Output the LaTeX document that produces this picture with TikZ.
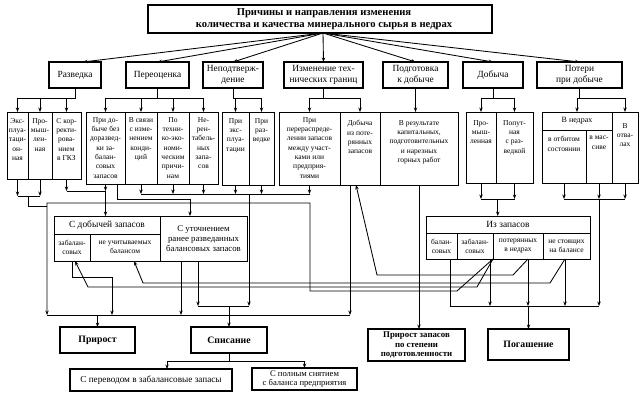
\documentclass[tikz,border=0pt]{standalone}
\usepackage{fontspec}
\setmainfont{Liberation Serif}
\usetikzlibrary{arrows.meta,calc}
\newcommand\bx[6][]{\node[rect,minimum width={(#4-#2)*1pt},minimum height={(#5-#3)*1pt},#1] (#6) at ({(#2+#4)/2},{-(#3+#5)/2}) {};}
\begin{document}
\begin{tikzpicture}[x=1pt,y=1pt,line width=0.85pt,
  rect/.style={draw,rectangle,inner sep=0pt,outer sep=0pt,line width=0.95pt},
  heavy/.style={line width=1.4pt},
  ar/.style={-{Stealth[length=4.5pt,width=3.4pt]}},
  lab/.style={font=\fontsize{7.5}{9.3}\selectfont,align=center,inner sep=0pt,anchor=north},
  sml/.style={font=\fontsize{7.5}{9}\selectfont,align=center,inner sep=0pt},
  mid/.style={font=\fontsize{8.8}{10.2}\selectfont,align=center,inner sep=0pt},
  lvl/.style={font=\fontsize{9.4}{11}\selectfont,align=center,inner sep=0pt},
  bot/.style={font=\bfseries\fontsize{9.8}{11}\selectfont,align=center,inner sep=0pt}]
\useasboundingbox (0,0) rectangle (644,-403);
% title
\bx[heavy]{148}{5}{492}{33}{title}
\node[font=\bfseries\fontsize{10.6}{12.4}\selectfont,align=center,inner sep=0pt] (titlet) at ([xshift=4pt]title.center) {Причины и направления изменения\\количества и качества минерального сырья в недрах};
% level 2
\bx[heavy]{49}{62}{101}{88}{razv}
\bx[heavy]{126}{62}{189}{88}{pere}
\bx[heavy]{203}{62}{263}{88}{nepod}
\bx[heavy]{284}{62}{363}{88}{izm}
\bx[heavy]{383}{62}{448}{88}{podg}
\bx[heavy]{463}{62}{523}{88}{dob}
\bx[heavy]{537}{62}{622}{88}{pot}
\node[lvl] (razvt) at (razv) {Разведка};
\node[lvl] (peret) at (pere) {Переоценка};
\node[lvl] (nepodt) at (nepod) {Неподтверж-\\дение};
\node[lvl] (izmt) at (izm) {Изменение тех-\\нических границ};
\node[lvl] (podgt) at (podg) {Подготовка\\к добыче};
\node[lvl] (dobt) at (dob) {Добыча};
\node[lvl] (pott) at (pot) {Потери\\при добыче};
% level 3
\bx{7}{112}{28}{179}{r1}
\bx{28}{112}{52}{179}{r2}
\bx{52}{112}{81}{179}{r3}
\bx{86}{112}{125}{184}{p1}
\bx{125}{112}{157}{184}{p2}
\bx{157}{112}{189}{184}{p3}
\bx{189}{112}{218}{184}{p4}
\bx{222}{112}{249}{185}{n1}
\bx{249}{112}{274}{185}{n2}
\bx{279}{112}{340}{185}{i1}
\bx{340}{112}{380}{185}{i2}
\bx{380}{112}{458}{185}{g1}
\bx{466}{112}{496}{183}{d1}
\bx{496}{112}{533}{183}{d2}
\bx{542}{112}{612}{130}{vn}
\bx{542}{130}{586}{183}{vo}
\bx{586}{130}{612}{183}{vm}
\bx{612}{112}{638}{183}{votv}
\node[lab] (r1t) at ([yshift=-6pt]r1.north) {Экс-\\плуа-\\таци-\\он-\\ная};
\node[lab] (r2t) at ([yshift=-6pt]r2.north) {Про-\\мыш-\\лен-\\ная};
\node[lab] (r3t) at ([yshift=-6pt]r3.north) {С кор-\\ректи-\\рова-\\нием\\в ГКЗ};
\node[lab] (p1t) at ([yshift=-5pt]p1.north) {При до-\\быче без\\доразвед-\\ки за-\\балан-\\совых\\запасов};
\node[lab] (p2t) at ([yshift=-5pt]p2.north) {В связи\\с изме-\\нением\\конди-\\ций};
\node[lab] (p3t) at ([yshift=-5pt]p3.north) {По\\техни-\\ко-эко-\\номи-\\ческим\\причи-\\нам};
\node[lab] (p4t) at ([yshift=-5pt]p4.north) {Не-\\рен-\\табель-\\ных\\запа-\\сов};
\node[lab] (n1t) at ([yshift=-6pt]n1.north) {При\\экс-\\плуа-\\тации};
\node[lab] (n2t) at ([yshift=-6pt]n2.north) {При\\раз-\\ведке};
\node[lab] (i1t) at ([yshift=-5pt]i1.north) {При\\перераспреде-\\лении запасов\\между участ-\\ками или\\предприя-\\тиями};
\node[lab] (i2t) at ([yshift=-8pt]i2.north) {Добыча\\из поте-\\рянных\\запасов};
\node[lab] (g1t) at ([yshift=-8pt]g1.north) {В результате\\капитальных,\\подготовительных\\и нарезных\\горных работ};
\node[lab] (d1t) at ([yshift=-8pt]d1.north) {Про-\\мыш-\\ленная};
\node[lab] (d2t) at ([yshift=-8pt]d2.north) {Попут-\\ная\\с раз-\\ведкой};
\node[sml,font=\fontsize{8}{9.5}\selectfont] (vnt) at (vn) {В недрах};
\node[lab] (vot) at ([yshift=-6pt]vo.north) {в отбитом\\состоянии};
\node[lab] (vmt) at ([yshift=-6pt]vm.north) {в мас-\\сиве};
\node[lab] (votvt) at ([yshift=-11pt]votv.north) {В\\отва-\\лах};
% middle boxes
\bx{54}{216}{160}{234}{sdh}
\bx{54}{234}{90}{261}{sz1}
\bx{90}{234}{160}{261}{sz2}
\bx{160}{216}{247}{261}{su}
\bx{426}{216}{590}{233}{izh}
\bx{426}{233}{457}{259}{iz1}
\bx{457}{233}{493}{259}{iz2}
\bx{493}{233}{543}{259}{iz3}
\bx{543}{233}{590}{259}{iz4}
\node[mid,font=\fontsize{9.4}{11}\selectfont] (sdht) at (sdh) {С добычей запасов};
\node[sml] (sz1t) at (sz1) {забалан-\\совых};
\node[sml] (sz2t) at (sz2) {не учитываемых\\балансом};
\node[mid] (sut) at (su) {С уточнением\\ранее разведанных\\балансовых запасов};
\node[mid,font=\fontsize{9.4}{11}\selectfont] (izht) at (izh) {Из запасов};
\node[sml] (iz1t) at (iz1) {балан-\\совых};
\node[sml] (iz2t) at (iz2) {забалан-\\совых};
\node[sml] (iz3t) at (iz3) {потерянных\\в недрах};
\node[sml] (iz4t) at (iz4) {не стоящих\\на балансе};
% bottom boxes
\bx[heavy]{60}{327}{135}{353}{prir}
\bx[heavy]{191}{327}{267}{353}{spis}
\bx[heavy]{70}{369}{232}{391}{perevod}
\bx[heavy]{252}{368}{357}{390}{polnym}
\bx[heavy]{368}{329}{465}{361}{prir2}
\bx[heavy]{488}{329}{569}{360}{pog}
\node[bot] (prirt) at (prir) {Прирост};
\node[bot] (spist) at (spis) {Списание};
\node[mid,font=\fontsize{9.2}{10.5}\selectfont] (perevodt) at (perevod) {С переводом в забалансовые запасы};
\node[mid,font=\fontsize{8.6}{9.6}\selectfont] (polnymt) at (polnym) {С полным снятием\\с баланса предприятия};
\node[bot,font=\bfseries\fontsize{8.8}{9.4}\selectfont] (prir2t) at (prir2) {Прирост запасов\\по степени\\подготовленности};
\node[bot] (pogt) at (pog) {Погашение};
% helper coordinates
\coordinate (hub) at (323,-33);
\coordinate (yA) at (0,-98);
\coordinate (yR) at (0,-196);
\coordinate (yS) at (0,-191);
\coordinate (yD) at (0,-194);
\coordinate (yF) at (0,-199);
\coordinate (yP) at (0,-315);
\coordinate (yQ) at (0,-306);
\coordinate (yE) at (0,-361);
\coordinate (k47) at (47,-203);
\coordinate (k47b) at (47,-206);
% title fan
\draw[ar] (hub) -- ($(razv.north)+(8,0)$);
\draw[ar] (hub) -- (pere.north);
\draw[ar] (hub) -- (nepod.north);
\draw[ar] (hub) -- (izm.north);
\draw[ar] (hub) -- (podg.north);
\draw[ar] (hub) -- (dob.north);
\draw[ar] (hub) -- (pot.north);
% level 2 -> level 3
\draw (razv.south) -- (razv.south |- yA) -- (r1.north |- yA);
\foreach \n in {r1,r2,r3} \draw[ar] (\n.north |- yA) -- (\n.north);
\draw (pere.south) -- (pere.south |- yA);
\draw (p1.north |- yA) -- (p4.north |- yA);
\foreach \n in {p1,p2,p3,p4} \draw[ar] (\n.north |- yA) -- (\n.north);
\draw (nepod.south) |- (n2.north |- yA);
\foreach \n in {n1,n2} \draw[ar] (\n.north |- yA) -- (\n.north);
\draw (izm.south) -- (izm.south |- yA);
\draw (i1.north |- yA) -- (i2.north |- yA);
\foreach \n in {i1,i2} \draw[ar] (\n.north |- yA) -- (\n.north);
\draw[ar] (podg.south) -- (podg.south |- g1.north);
\draw (dob.south) -- (dob.south |- yA);
\draw (d1.north |- yA) -- (d2.north |- yA);
\foreach \n in {d1,d2} \draw[ar] (\n.north |- yA) -- (\n.north);
\draw (pot.south) -- (pot.south |- yA);
\draw (vn.north |- yA) -- (votv.north |- yA);
\foreach \n in {vn,votv} \draw[ar] (\n.north |- yA) -- (\n.north);
% Razvedka outputs
\draw[ar] (r1.south) -- (r1.south |- yR);
\draw[ar] (r2.south) -- (r2.south |- yR);
\draw (r1.south |- yR) -- (r2.south |- yR);
\coordinate (rm) at ($(r1.south |- yR)!0.5!(r2.south |- yR)$);
\draw (rm) |- (k47b);
\draw[ar] (r3.south) -- (r3.south |- yS);
\draw[ar] (p1.south) -- (p1.south |- yS);
\draw (r3.south |- yS) -- (p1.south |- yS);
\draw[ar] (p1.south |- yS) -- (p1.south |- sdh.north);
\draw[ar] ($(p1.south)+(12,0)$) -- ++(0,-15) -| ($(su.north)+(-13.5,0)$);
% write-off bus
\foreach \n in {p2,p3,p4,n1,n2,i1} \draw[ar] (\n.south) -- (\n.south |- yD);
\draw (p2.south |- yD) -- (i1.south |- yD);
\draw[ar] (n1.south east |- yD) -- (n1.south east |- yQ);
% long lines from "Из запасов"
\draw[ar] (iz2.south east) -- (457,-291) -- (310,-291) -- (310,-203) -- (k47) -- (k47 |- yP);
\draw[ar] (iz2.south east) -- (477,-287) -- (88,-287) -- ($(sz1.south)+(3,0)$);
\draw[ar] ($(iz4.south east)+(-25,0)$) -- (550,-283) -- (143,-283) -- ($(sz2.south)+(9,0)$);
\draw[ar] ($(iz3.south east)+(-15,0)$) -- (513,-275) -- (377,-275) -- ($(i2.south)+(-4,0)$);
\draw[ar] ($(i2.south)+(-10,0)$) -- ($(i2.south |- yP)+(-10,0)$);
% from middle boxes
\draw[ar] (sz1.south) -- ++(0,-16) -| ($(sz2.south |- yP)+(-13,0)$);
\draw[ar] ($(su.south)+(-22.5,0)$) -- ($(su.south |- yP)+(-22.5,0)$);
\draw[ar] ($(su.south)+(-5.5,0)$) -- ($(su.south |- yQ)+(-5.5,0)$);
\draw ($(su.south |- yQ)+(-5.5,0)$) -- (n1.south east |- yQ);
\draw[ar] (spis.north |- yQ) -- (spis.north);
% increase bus
\draw (k47 |- yP) -- ($(i2.south |- yP)+(-10,0)$);
\draw[ar] (prir.north |- yP) -- (prir.north);
% write-off split
\draw (spis.south) -- (spis.south |- yE);
\draw ($(perevod.north |- yE)+(16,0)$) -- (polnym.north |- yE);
\draw[ar] ($(perevod.north |- yE)+(16,0)$) -- ($(perevod.north)+(16,0)$);
\draw[ar] (polnym.north |- yE) -- (polnym.north);
% preparation
\draw[ar] (g1.south) -- (g1.south |- prir2.north);
% extraction
\draw[ar] (d1.south) -- (d1.south |- yF);
\draw[ar] (d2.south) -- (d2.south |- yF);
\draw (d1.south |- yF) -- (d2.south |- yF);
\coordinate (dm) at ($(d1.south |- yF)!0.5!(d2.south |- yF)$);
\draw[ar] (dm) -- (dm |- izh.north);
% losses
\foreach \n in {vo,vm,votv} \draw[ar] (\n.south) -- (\n.south |- yF);
\draw (vo.south |- yF) -- (votv.south |- yF);
\draw[ar] (vm.south |- yF) -- (vm.south |- yQ);
% depletion bus
\draw ($(iz1.south east)+(-7,0)$) -- ($(iz1.south east |- yQ)+(-7,0)$) -- (vm.south |- yQ);
\draw[ar] ($(iz2.south east)+(-3,0)$) -- ($(iz2.south east |- yQ)+(-3,0)$);
\draw[ar] ($(iz3.south east)+(-15,0)$) -- ($(iz3.south east |- yQ)+(-15,0)$);
\draw[ar] ($(iz4.south east)+(-25,0)$) -- ($(iz4.south east |- yQ)+(-25,0)$);
\draw[ar] (pog.north |- yQ) -- (pog.north);
\end{tikzpicture}
\end{document}
